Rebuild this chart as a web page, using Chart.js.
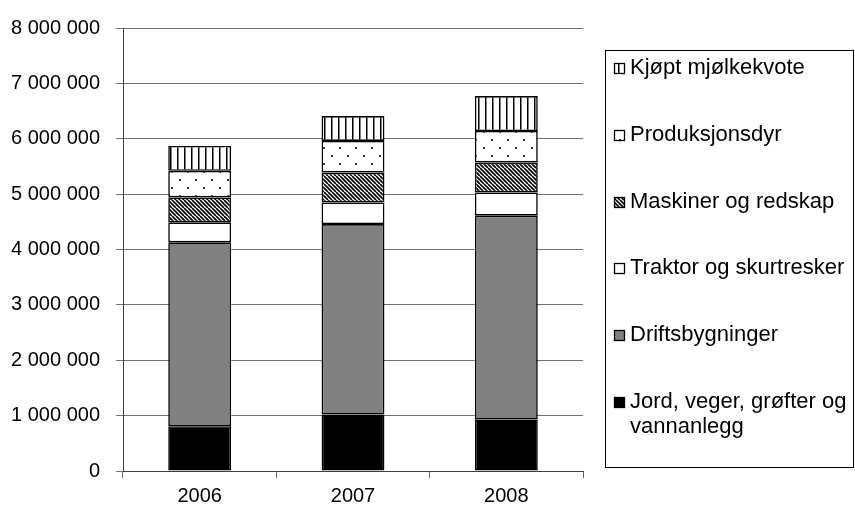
<!DOCTYPE html>
<html>
<head>
<meta charset="utf-8">
<script src="https://cdn.jsdelivr.net/npm/chart.js@4/dist/chart.umd.min.js"></script>
<style>
  html, body { margin: 0; padding: 0; background: #fff; }
  #wrap { width: 855px; height: 508px; }
</style>
</head>
<body>
<div id="wrap"><canvas id="c" width="855" height="508"></canvas></div>
<script>
// ---- data ----
const categories = ['2006', '2007', '2008'];
const jordVeger = [810000, 1020000, 930000];
const driftsbygninger = [3320000, 3440000, 3680000];
const traktor = [360000, 390000, 420000];
const maskiner = [450000, 540000, 540000];
const produksjonsdyr = [480000, 570000, 570000];
const mjolkekvote = [450000, 450000, 630000];
const seriesLabels = ['Jord, veger, grøfter og vannanlegg', 'Driftsbygninger', 'Traktor og skurtresker', 'Maskiner og redskap', 'Produksjonsdyr', 'Kjøpt mjølkekvote'];
const yTickValues = [0, 1000000, 2000000, 3000000, 4000000, 5000000, 6000000, 7000000, 8000000];

// ---- patterns ----
function makePattern(w, h, draw) {
  const c = document.createElement('canvas');
  c.width = w; c.height = h;
  const g = c.getContext('2d');
  g.fillStyle = '#fff';
  g.fillRect(0, 0, w, h);
  draw(g);
  return document.getElementById('c').getContext('2d').createPattern(c, 'repeat');
}
const patVertical = makePattern(7, 7, g => {
  g.fillStyle = '#000';
  g.fillRect(2, 0, 1.5, 7);
});
const patDots = makePattern(16, 16, g => {
  g.fillStyle = '#333';
  g.fillRect(3, 3, 2, 2);
  g.fillRect(11, 11, 2, 2);
});
const patDiag = makePattern(8, 8, g => {
  g.strokeStyle = '#000';
  g.lineWidth = 1.7;
  for (let k = -8; k <= 16; k += 4) {
    g.beginPath(); g.moveTo(k, 0); g.lineTo(k + 8, 8); g.stroke();
  }
});

const FONT = "'Liberation Sans', Arial, sans-serif";
const fills = ['#000000', '#808080', '#ffffff', patDiag, patDots, patVertical];
const values = [jordVeger, driftsbygninger, traktor, maskiner, produksjonsdyr, mjolkekvote];

const datasets = values.map((v, i) => ({
  label: seriesLabels[i],
  data: v,
  backgroundColor: fills[i],
  borderColor: '#000',
  borderWidth: 1.6,
  borderSkipped: false,
  barPercentage: 0.41,
  categoryPercentage: 1.0
}));

// ---- custom legend (drawn on canvas) ----
const boxLegend = {
  id: 'boxLegend',
  afterDraw(chart) {
    const ctx = chart.ctx;
    ctx.save();
    ctx.strokeStyle = '#000';
    ctx.lineWidth = 1;
    ctx.strokeRect(605.5, 50.5, 248, 417);
    ctx.font = '22px ' + FONT;
    ctx.textBaseline = 'middle';
    ctx.fillStyle = '#000';
    const ys = [68, 135, 202, 268, 335, 402];
    const ds = chart.data.datasets.slice().reverse();
    ds.forEach((d, i) => {
      const y = ys[i];
      ctx.fillStyle = d.backgroundColor;
      ctx.fillRect(614, y - 5, 11, 11);
      ctx.strokeStyle = '#000';
      ctx.lineWidth = 1.3;
      ctx.strokeRect(614.5, y - 4.5, 10, 10);
      ctx.fillStyle = '#000';
      const words = d.label.split(' ');
      const lines = [];
      let cur = '';
      words.forEach(w => {
        const t = cur ? cur + ' ' + w : w;
        if (ctx.measureText(t).width > 224 && cur) { lines.push(cur); cur = w; }
        else cur = t;
      });
      lines.push(cur);
      lines.forEach((ln, j) => ctx.fillText(ln, 630, y + j * 25));
    });
    ctx.restore();
  }
};

new Chart(document.getElementById('c'), {
  type: 'bar',
  data: { labels: categories, datasets },
  options: {
    responsive: false,
    animation: false,
    devicePixelRatio: 1,
    layout: { padding: { top: 25, right: 272, left: 0, bottom: 0 } },
    plugins: { legend: { display: false }, tooltip: { enabled: false } },
    scales: {
      x: {
        stacked: true,
        grid: { drawOnChartArea: false, drawTicks: true, tickLength: 7, color: '#666', offset: true },
        border: { color: '#404040', width: 1 },
        ticks: { color: '#000', font: { family: FONT, size: 20 }, padding: 6 },
        afterFit(s) { s.height = 37; }
      },
      y: {
        stacked: true,
        min: 0,
        max: 8000000,
        afterBuildTicks(s) { s.ticks = yTickValues.map(v => ({ value: v })); },
        grid: { color: '#707070', lineWidth: 1, tickLength: 7 },
        border: { color: '#404040', width: 1 },
        ticks: {
          color: '#000',
          font: { family: FONT, size: 20 },
          padding: 16,
          callback: v => String(v).replace(/\B(?=(\d{3})+(?!\d))/g, ' ')
        },
        afterFit(s) { s.width = 123; }
      }
    }
  },
  plugins: [boxLegend]
});
</script>
</body>
</html>
